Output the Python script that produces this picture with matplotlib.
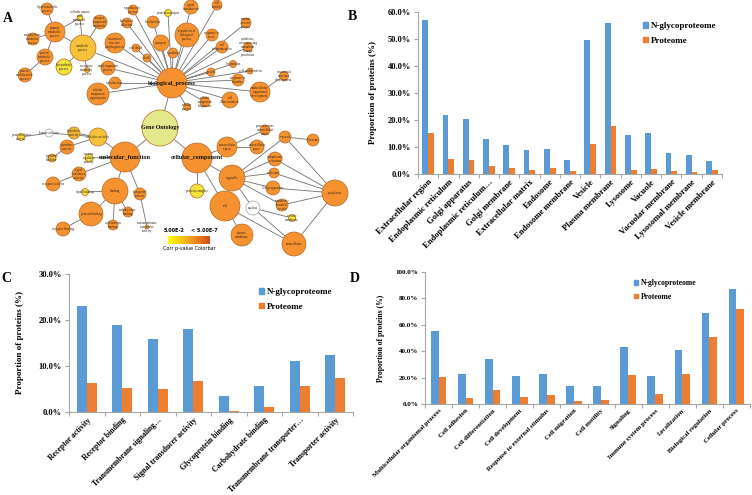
import numpy as np
import matplotlib
matplotlib.use("Agg")
import matplotlib.pyplot as plt
from matplotlib.patches import Circle, Patch
from matplotlib.ticker import FuncFormatter
from matplotlib.colors import LinearSegmentedColormap

# ---------------- data ----------------
b_cats = ["Extracellular region", "Endoplasmic reticulum", "Golgi apparatus",
          "Endoplasmic reticulum…", "Golgi membrane", "Extracellular matrix",
          "Endosome", "Endosome membrane", "Vesicle", "Plasma membrane",
          "Lysosome", "Vacuole", "Vacuolar membrane", "Lysosomal membrane",
          "Vesicle membrane"]
b_glyco = [57.0, 21.8, 20.2, 13.1, 10.9, 9.0, 9.1, 5.3, 49.6, 55.8, 14.4, 15.1, 7.7, 7.0, 5.0]
b_prot = [15.3, 5.5, 5.1, 3.1, 2.1, 1.5, 2.3, 1.2, 11.2, 17.7, 1.5, 1.8, 1.0, 0.9, 1.3]

c_cats = ["Receptor activity", "Receptor binding", "Transmembrane signaling…",
          "Signal transducer activity", "Glycoprotein binding", "Carbohydrate binding",
          "Transmembrane transporter…", "Transporter activity"]
c_glyco = [23.0, 19.0, 15.8, 18.1, 3.5, 5.6, 11.1, 12.3]
c_prot = [6.4, 5.2, 5.0, 6.8, 0.3, 1.1, 5.7, 7.3]

d_cats = ["Multicellular organismal process", "Cell adhesion", "Cell differentiation",
          "Cell development", "Response to external stimulus", "Cell migration",
          "Cell motility", "Signaling", "Immune system process", "Localization",
          "Biological regulation", "Cellular process"]
d_glyco = [55.5, 22.8, 33.9, 21.3, 22.6, 13.9, 14.0, 43.3, 21.1, 41.2, 69.1, 87.2]
d_prot = [20.6, 4.2, 10.5, 5.3, 6.5, 2.4, 2.7, 22.0, 7.8, 22.5, 50.8, 72.3]

series_names = ["N-glycoproteome", "Proteome"]

# GO network: name -> (x, y, radius, colour key, label)
go_nodes = {
    "GO": (160, 128, 18, "go", "Gene Ontology"),
    "BP": (172, 83, 15, "o", "biological_process"),
    "MF": (125, 157, 15, "o", "molecular_function"),
    "CC": (197, 158, 15, "o", "cellular_component"),
    # biological process
    "met": (83, 48, 13, "ly", "metabolic\nprocess"),
    "pmet": (55, 32, 10, "o", "primary\nmetabolic\nprocess"),
    "lip": (47, 9, 6, "o", "lipid metabolic\nprocess"),
    "carb": (33, 39, 6, "o", "carbohydrate\nmetabolic\nprocess"),
    "prot": (45, 57, 8, "o", "protein\nmetabolic\nprocess"),
    "mod": (25, 75, 7, "o", "protein\nmodification\nprocess"),
    "aa": (80, 18, 3, "y", "cellular amino\nacid\nmetabolic\nprocess"),
    "bios": (64, 67, 8, "y", "biosynthetic\nprocess"),
    "sec": (87, 70, 2.5, "yo", "secondary\nmetabolic\nprocess"),
    "cmet": (100, 22, 7, "o", "nitrogen\ncompound\nmetabolic"),
    "asm": (115, 43, 10, "o", "anatomical\nstructure\nmorphogenesis"),
    "mop": (108, 68, 7, "o", "multi-organism\nprocess"),
    "rep": (115, 83, 6, "o", "reproduction"),
    "cco": (98, 94, 11, "o", "cellular\ncomponent\norganization"),
    "adh": (127, 23, 5, "o", "biological\nadhesion"),
    "rpr": (133, 10, 5, "o", "reproductive\nprocess"),
    "loc": (153, 22, 6, "o", "localization"),
    "ptr": (168, 13, 3.5, "y", "protein transport"),
    "sig": (191, 7, 7, "o", "signal\ntransduction"),
    "mot": (217, 5, 5, "o", "cell\nmotility"),
    "rbp": (187, 35, 12, "o", "regulation of\nbiological\nprocess"),
    "trn": (161, 43, 8, "o", "transport"),
    "sgn": (173, 53, 5, "o", "signaling"),
    "cd": (136, 48, 4, "o", "cell death"),
    "dth": (147, 58, 4, "o", "death"),
    "rs": (212, 35, 6, "o", "response to\nstress"),
    "cc2": (222, 47, 6, "o", "cell\ncommunication"),
    "sym": (248, 47, 4.5, "o", "symbiosis,\nencompassing\nmutualism\nthrough\nparasitism"),
    "imm": (246, 23, 5, "o", "immune\nsystem\nprocess"),
    "grw": (211, 72, 4, "o", "growth"),
    "lcm": (233, 64, 3.5, "o", "locomotion"),
    "prl": (250, 71, 3, "o", "cell proliferation"),
    "rst": (238, 80, 6, "o", "response to\nstimulus"),
    "mod2": (260, 92, 10, "o", "multicellular\norganismal\ndevelopment"),
    "asd": (284, 76, 4.5, "o", "anatomical\nstructure\ndevelopment"),
    "cdf": (230, 100, 8, "o", "cell\ndifferentiation"),
    "ccb": (205, 102, 5, "o", "cellular\ncomponent\nbiogenesis"),
    "cpr": (187, 107, 3.5, "o", "cellular\nprocess"),
    # molecular function
    "cat": (98, 137, 9, "ly", "catalytic activity"),
    "hyd": (74, 133, 6, "yo", "hydrolase\nactivity"),
    "kin": (49, 133, 4, "w", "kinase activity"),
    "pkin": (21, 137, 3.5, "y", "protein kinase\nactivity"),
    "pep": (67, 147, 7, "o", "peptidase\nactivity"),
    "pepi": (52, 158, 4, "yo", "peptidase\ninhibitor"),
    "enz": (89, 158, 4, "y", "enzyme\nregulator\nactivity"),
    "std": (79, 174, 7, "o", "signal\ntransducer\nactivity"),
    "rec": (53, 184, 7, "o", "receptor activity"),
    "bnd": (115, 191, 13, "o", "binding"),
    "lipb": (85, 192, 3.5, "y", "lipid binding"),
    "pb": (91, 214, 12, "o", "protein binding"),
    "rb": (63, 229, 7, "o", "receptor binding"),
    "cab": (128, 212, 5, "o", "carbohydrate\nbinding"),
    "cib": (113, 225, 5, "o", "calcium ion\nbinding"),
    "tra": (140, 194, 6, "o", "transporter\nactivity"),
    "ttra": (147, 227, 2, "yo", "transmembrane\ntransporter\nactivity"),
    # cellular component
    "exr": (227, 147, 10, "o", "extracellular\nregion"),
    "exs": (257, 147, 7, "o", "extracellular\nspace"),
    "ecm": (265, 130, 5, "o", "proteinaceous\nextracellular\nmatrix"),
    "pcx": (197, 191, 7, "y", "protein complex"),
    "org": (232, 178, 13, "o", "organelle"),
    "er": (275, 159, 7, "o", "endoplasmic\nreticulum"),
    "end": (274, 173, 5, "o", "endosome"),
    "gol": (273, 188, 7, "o", "Golgi apparatus"),
    "vac": (285, 137, 6, "o", "vacuole"),
    "lys": (313, 140, 6, "o", "lysosome"),
    "nuc": (253, 208, 7, "w", "nucleus"),
    "mbv": (282, 205, 6, "o", "membrane-\nbounded\nvesicle"),
    "vm": (292, 218, 3.5, "y", "vesicle\nmembrane"),
    "cell": (225, 206, 15, "o", "cell"),
    "pm": (242, 235, 11, "o", "plasma\nmembrane"),
    "cyt": (335, 193, 13, "o", "cytoplasm"),
    "int": (294, 244, 12, "o", "intracellular"),
}

go_edges = [
    ("GO", "BP"), ("GO", "MF"), ("GO", "CC"),
    ("BP", "met"), ("met", "pmet"), ("pmet", "lip"), ("pmet", "carb"), ("pmet", "prot"),
    ("prot", "mod"), ("pmet", "aa"), ("met", "aa"), ("met", "bios"), ("met", "sec"), ("met", "cmet"),
    ("BP", "asm"), ("BP", "mop"), ("BP", "rep"), ("BP", "cco"), ("BP", "adh"), ("BP", "rpr"),
    ("BP", "loc"), ("BP", "ptr"), ("BP", "sig"), ("BP", "mot"), ("BP", "rbp"), ("BP", "trn"),
    ("BP", "sgn"), ("BP", "cd"), ("BP", "dth"), ("BP", "rs"), ("BP", "cc2"), ("BP", "sym"),
    ("BP", "imm"), ("BP", "grw"), ("BP", "lcm"), ("BP", "prl"), ("BP", "rst"), ("BP", "mod2"),
    ("mod2", "asd"), ("BP", "cdf"), ("BP", "ccb"), ("BP", "cpr"),
    ("MF", "cat"), ("cat", "hyd"), ("cat", "kin"), ("kin", "pkin"), ("cat", "pep"), ("pep", "pepi"),
    ("MF", "enz"), ("MF", "std"), ("std", "rec"), ("MF", "bnd"), ("bnd", "lipb"), ("bnd", "pb"),
    ("pb", "rb"), ("bnd", "cab"), ("bnd", "cib"), ("MF", "tra"), ("tra", "ttra"),
    ("CC", "exr"), ("exr", "exs"), ("exr", "ecm"), ("CC", "pcx"), ("CC", "org"), ("CC", "cell"),
    ("org", "er"), ("org", "end"), ("org", "gol"), ("org", "vac"), ("vac", "lys"), ("org", "mbv"),
    ("org", "nuc"), ("nuc", "vm"), ("nuc", "int"), ("cell", "pm"), ("cell", "int"),
    ("vac", "cyt"), ("er", "cyt"), ("end", "cyt"), ("gol", "cyt"), ("mbv", "cyt"), ("int", "cyt"),
]

colorbar_labels = ["5.00E-2", "< 5.00E-7", "Corr p-value Colorbar"]

# ---------------- style ----------------
BLUE = "#5B9BD5"
ORANGE = "#ED7D31"
GRAY = "#A6A6A6"
SERIF = "Liberation Serif"
node_colors = {"o": "#F5922F", "ly": "#F7C23A", "yo": "#F0B634", "y": "#F2E33A",
               "w": "#FFFFFF", "go": "#E3E88D"}

W, H = 752, 495
fig = plt.figure(figsize=(W / 100, H / 100), dpi=100)


def px_axes(l, t, r, b):
    return fig.add_axes([l / W, 1 - b / H, (r - l) / W, (b - t) / H])


def bar_panel(ax, cats, g, p, ymax, step, fsx, fsy):
    x = np.arange(len(cats))
    w = 0.286
    ax.bar(x - w / 2, g, w, color=BLUE, label=series_names[0])
    ax.bar(x + w / 2, p, w, color=ORANGE, label=series_names[1])
    ax.set_xlim(-0.5, len(cats) - 0.5)
    ax.set_ylim(0, ymax)
    ax.set_yticks(np.arange(0, ymax + 0.01, step))
    ax.yaxis.set_major_formatter(FuncFormatter(lambda v, _: f"{v:.1f}%"))
    ax.set_xticks(x)
    ax.set_xticklabels(cats, rotation=45, ha="right", va="top", rotation_mode="anchor",
                       fontsize=fsx, fontfamily=SERIF, fontweight="bold")
    ax.set_xticks(np.arange(-0.5, len(cats)), minor=True)
    ax.tick_params(axis="x", which="major", length=0, pad=3)
    ax.tick_params(axis="x", which="minor", length=3, color=GRAY, width=0.8)
    ax.tick_params(axis="y", length=3, color=GRAY, width=0.8, pad=2)
    for lab in ax.get_yticklabels():
        lab.set_fontfamily(SERIF)
        lab.set_fontweight("bold")
        lab.set_fontsize(fsy)
    for s in ["top", "right"]:
        ax.spines[s].set_visible(False)
    for s in ["left", "bottom"]:
        ax.spines[s].set_color(GRAY)
        ax.spines[s].set_linewidth(0.8)


def legend_at(ax, xpx, ypx, fs):
    handles = [Patch(color=BLUE), Patch(color=ORANGE)]
    ax.legend(handles, series_names, loc="upper left",
              bbox_to_anchor=(xpx / W, 1 - ypx / H), bbox_transform=fig.transFigure,
              frameon=False, handlelength=0.55, handleheight=0.55, handletextpad=0.3,
              borderpad=0, borderaxespad=0, labelspacing=0.75,
              prop={"family": SERIF, "weight": "bold", "size": fs})


# Panel B
axB = px_axes(418, 12, 722, 174)
bar_panel(axB, b_cats, b_glyco, b_prot, 60, 10, 6.2, 6.0)
legend_at(axB, 643, 22, 6.5)

# Panel C
axC = px_axes(69, 274, 353, 412)
bar_panel(axC, c_cats, c_glyco, c_prot, 30, 10, 5.6, 6.0)
legend_at(axC, 259, 288, 6.5)

# Panel D
axD = px_axes(425, 272, 750, 404)
bar_panel(axD, d_cats, d_glyco, d_prot, 100, 20, 4.8, 5.0)
legend_at(axD, 634, 279, 5.5)

ylab_kw = dict(rotation=90, ha="center", va="center", fontfamily=SERIF, fontweight="bold")
fig.text(373 / W, 1 - 93 / H, "Proportion of proteins (%)", fontsize=6.5, **ylab_kw)
fig.text(20 / W, 1 - 343 / H, "Proportion of proteins (%)", fontsize=6.5, **ylab_kw)
fig.text(381 / W, 1 - 338 / H, "Proportion of proteins (%)", fontsize=5.5, **ylab_kw)

letter_kw = dict(ha="center", va="center", fontfamily=SERIF, fontweight="bold", fontsize=10)
fig.text(8 / W, 1 - 19 / H, "A", **letter_kw)
fig.text(352 / W, 1 - 16 / H, "B", **letter_kw)
fig.text(6 / W, 1 - 278 / H, "C", **letter_kw)
fig.text(355 / W, 1 - 278 / H, "D", **letter_kw)

# Panel A: GO network
axA = px_axes(0, 0, 370, 260)
axA.set_xlim(0, 370)
axA.set_ylim(260, 0)
axA.axis("off")
for a, b in go_edges:
    xa, ya = go_nodes[a][:2]
    xb, yb = go_nodes[b][:2]
    axA.plot([xa, xb], [ya, yb], color="#707070", lw=0.6, zorder=1)
big = {"GO", "BP", "MF", "CC"}
for key, (x, y, r, ck, lab) in go_nodes.items():
    ec = "#A0A0A0" if ck == "w" else "#B06A28"
    axA.add_patch(Circle((x, y), r, facecolor=node_colors[ck], edgecolor=ec, lw=0.5, zorder=2))
    if key in big:
        axA.text(x, y, lab, ha="center", va="center", fontsize=4.3 if key == "GO" else 4.4,
                 fontfamily=SERIF, fontweight="bold", color="#111111", zorder=3)
    else:
        axA.text(x, y, lab, ha="center", va="center", fontsize=2.4, linespacing=0.95,
                 fontfamily=SERIF, color="#3a2a1a", zorder=3)

cmap = LinearSegmentedColormap.from_list("pv", ["#FFFF00", "#F5A623", "#D24A1A"])
grad = np.linspace(0, 1, 256).reshape(1, -1)
axA.imshow(grad, cmap=cmap, extent=[168, 210, 244, 236], aspect="auto", zorder=2)
axA.set_xlim(0, 370)
axA.set_ylim(260, 0)
axA.text(174, 233, colorbar_labels[0], ha="center", va="bottom", fontsize=3.5,
         fontfamily="DejaVu Sans", fontweight="bold")
axA.text(204, 233, colorbar_labels[1], ha="center", va="bottom", fontsize=3.5,
         fontfamily="DejaVu Sans", fontweight="bold")
axA.text(189, 246, colorbar_labels[2], ha="center", va="top", fontsize=3.5,
         fontfamily="DejaVu Sans")

fig.savefig("out.png", dpi=100)
